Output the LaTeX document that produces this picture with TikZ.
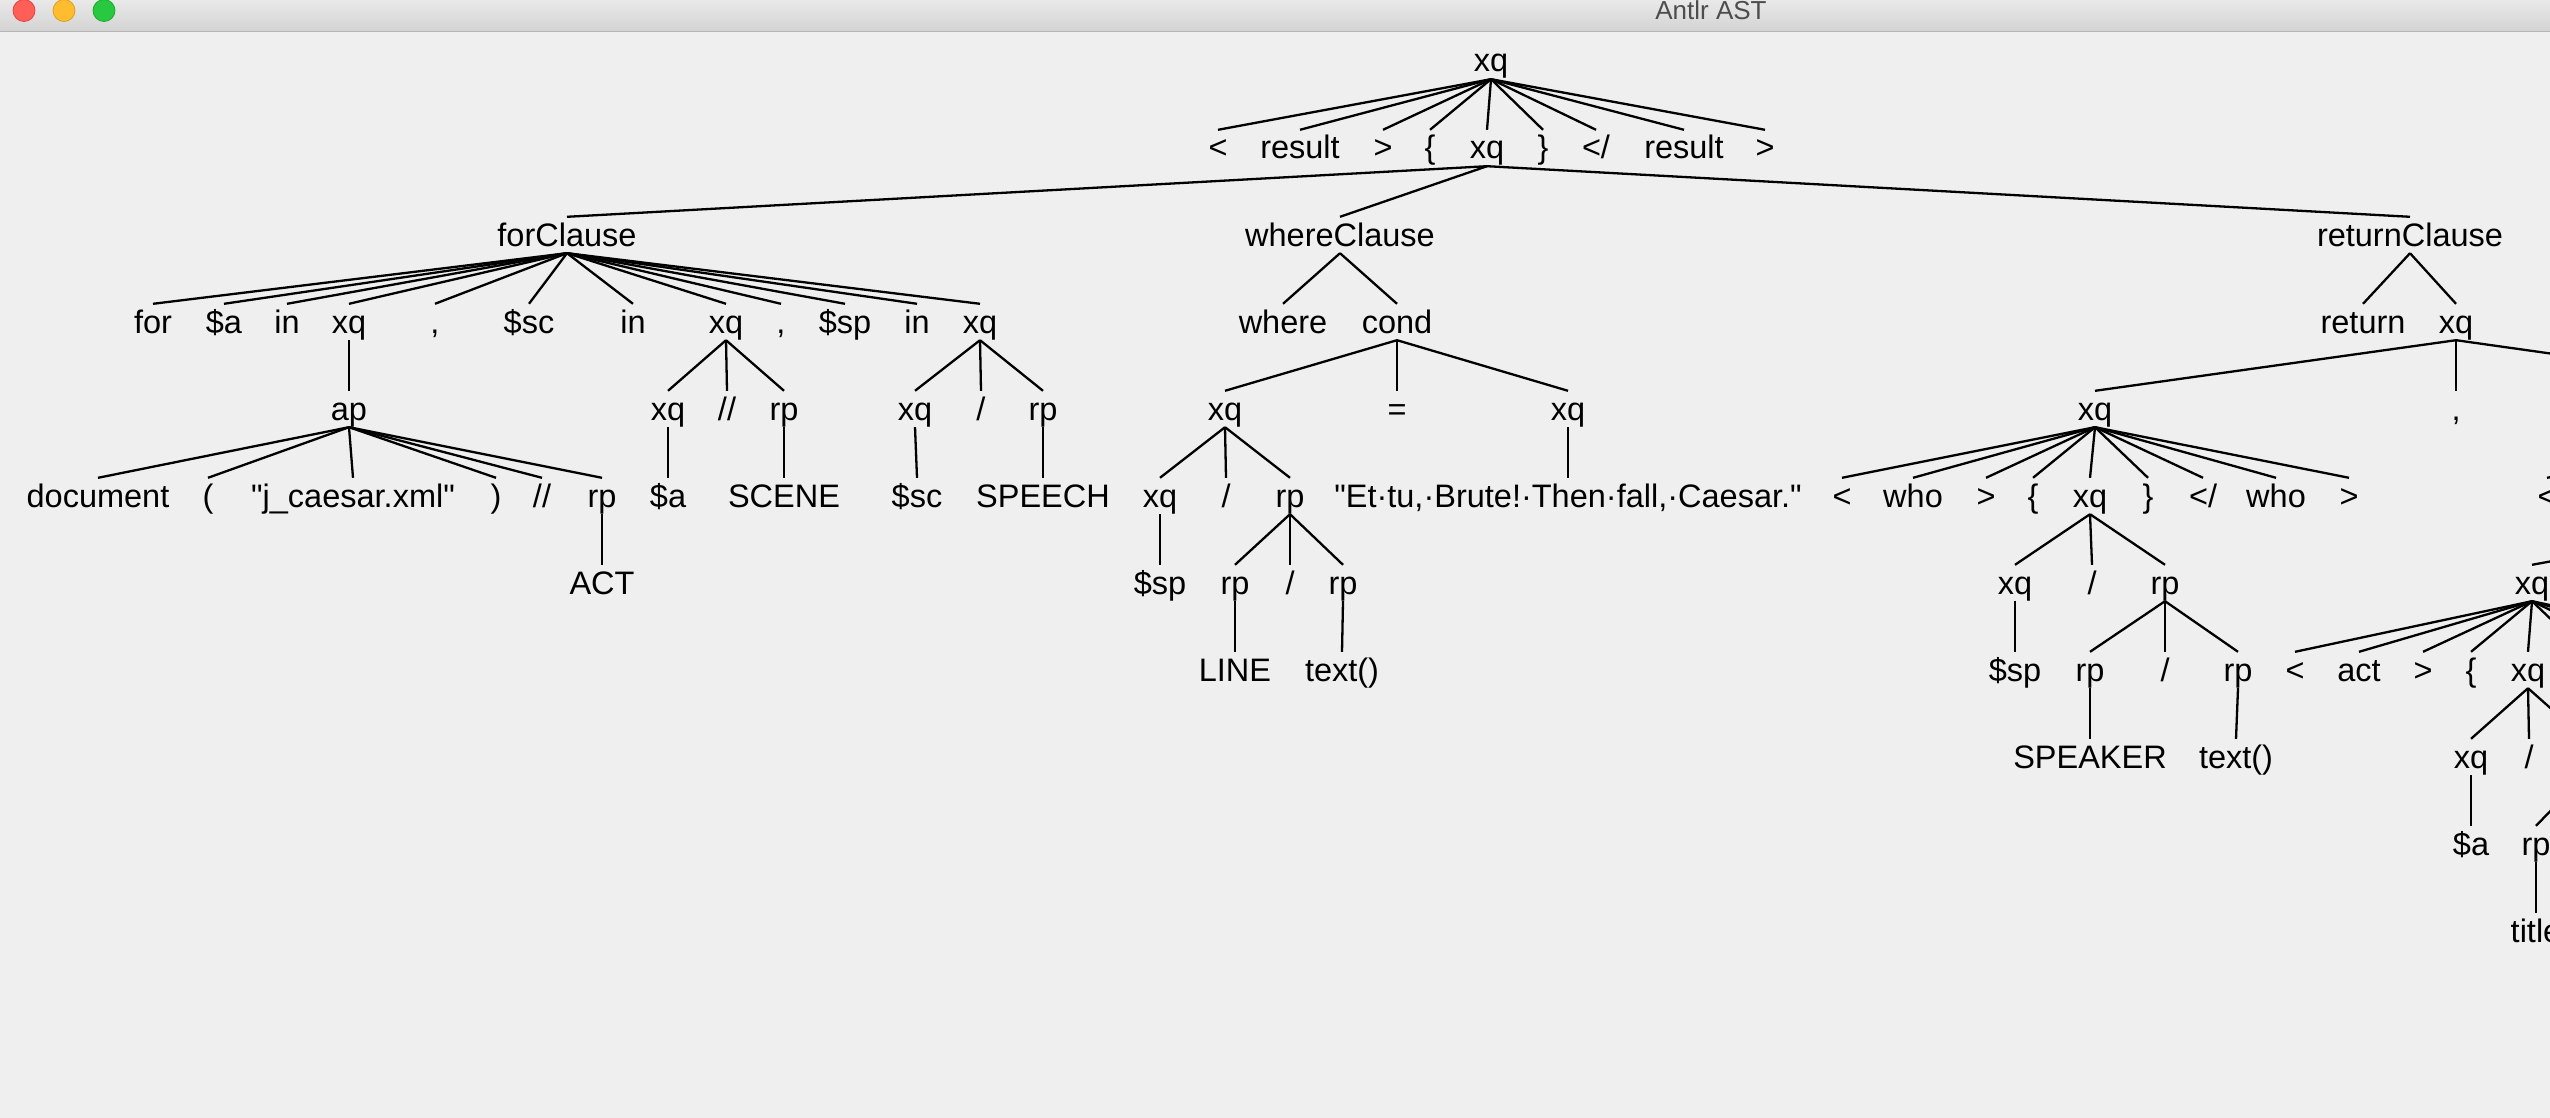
\documentclass[tikz,border=0pt]{standalone}
\usepackage{fontspec}
\setmainfont{Liberation Sans}[Ligatures=TeXOff]
\definecolor{bg}{HTML}{EFEFEF}
\definecolor{tbtop}{HTML}{E9E9E9}
\definecolor{tbbot}{HTML}{D3D3D3}
\definecolor{tbline}{HTML}{B4B4B4}
\definecolor{tlred}{HTML}{FF5F57}
\definecolor{tlredb}{HTML}{E2463F}
\definecolor{tlyel}{HTML}{FEBC2E}
\definecolor{tlyelb}{HTML}{DEA123}
\definecolor{tlgrn}{HTML}{28C840}
\definecolor{tlgrnb}{HTML}{1DAD2B}
\definecolor{ttlgray}{HTML}{4D4D4D}
\begin{document}
\begin{tikzpicture}[x=1pt,y=-1pt,
  t/.style={anchor=base, inner xsep=0pt, inner ysep=7pt, text height=22pt, text depth=0pt,
    font=\fontsize{32.5}{39}\selectfont, text=black},
  e/.style={line width=2.3pt, draw=black},
  wintitle/.style={anchor=base, inner sep=0pt, font=\fontsize{26}{31}\selectfont, text=ttlgray},
  light/.style={line width=0.8pt}]
\useasboundingbox (0,0) rectangle (2550,1118);
\clip (0,0) rectangle (2550,1118);
\fill[bg] (0,0) rectangle (2550,1118);
% title bar
\shade[top color=tbtop, bottom color=tbbot] (0,0) rectangle (2550,31);
\draw[line width=1.5pt, tbline] (0,31.5) -- (2550,31.5);
\filldraw[light, fill=tlred, draw=tlredb] (24,10.5) circle[radius=11];
\filldraw[light, fill=tlyel, draw=tlyelb] (64,10.5) circle[radius=11];
\filldraw[light, fill=tlgrn, draw=tlgrnb] (104,10.5) circle[radius=11];
\node[wintitle] (wt) at (1711,20) {Antlr AST};

% row 0
\node[t] (r0) at (1491,72) {xq};
% row 1
\node[t] (a1) at (1218,159) {<};
\node[t] (a2) at (1300,159) {result};
\node[t] (a3) at (1383,159) {>};
\node[t] (a4) at (1430,159) {\{};
\node[t] (a5) at (1487,159) {xq};
\node[t] (a6) at (1543,159) {\}};
\node[t] (a7) at (1596,159) {</};
\node[t] (a8) at (1684,159) {result};
\node[t] (a9) at (1765,159) {>};
% row 2
\node[t] (fc) at (567,246) {forClause};
\node[t] (wc) at (1340,246) {whereClause};
\node[t] (rc) at (2410,246) {returnClause};
% row 3
\node[t] (f1) at (153,333) {for};
\node[t] (f2) at (224,333) {\$a};
\node[t] (f3) at (287,333) {in};
\node[t] (f4) at (349,333) {xq};
\node[t] (f5) at (435,333) {,};
\node[t] (f6) at (529,333) {\$sc};
\node[t] (f7) at (633,333) {in};
\node[t] (f8) at (726,333) {xq};
\node[t] (f9) at (781,333) {,};
\node[t] (f10) at (845,333) {\$sp};
\node[t] (f11) at (917,333) {in};
\node[t] (f12) at (980,333) {xq};
\node[t] (w1) at (1283,333) {where};
\node[t] (w2) at (1397,333) {cond};
\node[t] (t1) at (2363,333) {return};
\node[t] (t2) at (2456,333) {xq};
% row 4
\node[t] (ap) at (349,420) {ap};
\node[t] (g1) at (668,420) {xq};
\node[t] (g2) at (727,420) {//};
\node[t] (g3) at (784,420) {rp};
\node[t] (h1) at (915,420) {xq};
\node[t] (h2) at (981,420) {/};
\node[t] (h3) at (1043,420) {rp};
\node[t] (c1) at (1225,420) {xq};
\node[t] (c2) at (1397,420) {=};
\node[t] (c3) at (1568,420) {xq};
\node[t] (q1) at (2095,420) {xq};
\node[t] (q2) at (2456,420) {,};
\node[t] (q3) at (2815,420) {xq};
% row 5
\node[t] (d1) at (98,507) {document};
\node[t] (d2) at (208,507) {(};
\node[t] (d3) at (353,507) {"j\_caesar.xml"};
\node[t] (d4) at (496,507) {)};
\node[t] (d5) at (542,507) {//};
\node[t] (d6) at (602,507) {rp};
\node[t] (g1a) at (668,507) {\$a};
\node[t] (g3a) at (784,507) {SCENE};
\node[t] (h1a) at (917,507) {\$sc};
\node[t] (h3a) at (1043,507) {SPEECH};
\node[t] (c1a) at (1160,507) {xq};
\node[t] (c1b) at (1226,507) {/};
\node[t] (c1c) at (1290,507) {rp};
\node[t] (c3a) at (1568,507) {"Et·tu,·Brute!·Then·fall,·Caesar."};
\node[t] (p1) at (1842,507) {<};
\node[t] (p2) at (1913,507) {who};
\node[t] (p3) at (1986,507) {>};
\node[t] (p4) at (2033,507) {\{};
\node[t] (p5) at (2090,507) {xq};
\node[t] (p6) at (2148,507) {\}};
\node[t] (p7) at (2203,507) {</};
\node[t] (p8) at (2276,507) {who};
\node[t] (p9) at (2349,507) {>};
\node[t] (s1) at (2547,507) {<};
\node[t] (s2) at (2627,507) {when};
\node[t] (s3) at (2706,507) {>};
\node[t] (s4) at (2753,507) {\{};
\node[t] (s5) at (2807,507) {xq};
\node[t] (s6) at (2861,507) {\}};
\node[t] (s7) at (2912,507) {</};
\node[t] (s8) at (2996,507) {when};
\node[t] (s9) at (3076,507) {>};
% row 6
\node[t] (act0) at (602,594) {ACT};
\node[t] (u1) at (1160,594) {\$sp};
\node[t] (v1) at (1235,594) {rp};
\node[t] (v2) at (1290,594) {/};
\node[t] (v3) at (1343,594) {rp};
\node[t] (k1) at (2015,594) {xq};
\node[t] (k2) at (2092,594) {/};
\node[t] (k3) at (2165,594) {rp};
\node[t] (m1) at (2532,594) {xq};
\node[t] (m2) at (2586,594) {,};
\node[t] (m3) at (3082,594) {xq};
% row 7
\node[t] (ln) at (1235,681) {LINE};
\node[t] (tx1) at (1342,681) {text()};
\node[t] (k1a) at (2015,681) {\$sp};
\node[t] (k3a) at (2090,681) {rp};
\node[t] (k3b) at (2165,681) {/};
\node[t] (k3c) at (2238,681) {rp};
\node[t] (n1) at (2295,681) {<};
\node[t] (n2) at (2359,681) {act};
\node[t] (n3) at (2423,681) {>};
\node[t] (n4) at (2471,681) {\{};
\node[t] (n5) at (2528,681) {xq};
\node[t] (n6) at (2585,681) {\}};
\node[t] (n7) at (2637,681) {</};
\node[t] (n8) at (2704,681) {act};
\node[t] (n9) at (2769,681) {>};
% row 8
\node[t] (spk) at (2090,768) {SPEAKER};
\node[t] (tx2) at (2236,768) {text()};
\node[t] (o1) at (2471,768) {xq};
\node[t] (o2) at (2529,768) {/};
\node[t] (o3) at (2585,768) {rp};
% row 9
\node[t] (o1a) at (2471,855) {\$a};
\node[t] (z1) at (2536,855) {rp};
\node[t] (z2) at (2585,855) {/};
\node[t] (z3) at (2634,855) {rp};
% row 10
\node[t] (ttl) at (2536,942) {title};
\node[t] (tx3) at (2634,942) {text()};

% edges
\foreach \p/\cs in {r0/{a1,a2,a3,a4,a5,a6,a7,a8,a9},
  a5/{fc,wc,rc},
  fc/{f1,f2,f3,f4,f5,f6,f7,f8,f9,f10,f11,f12},
  wc/{w1,w2}, rc/{t1,t2},
  f4/{ap}, f8/{g1,g2,g3}, f12/{h1,h2,h3},
  w2/{c1,c2,c3}, t2/{q1,q2,q3},
  ap/{d1,d2,d3,d4,d5,d6},
  g1/{g1a}, g3/{g3a}, h1/{h1a}, h3/{h3a},
  c1/{c1a,c1b,c1c}, c3/{c3a},
  q1/{p1,p2,p3,p4,p5,p6,p7,p8,p9},
  q3/{s1,s2,s3,s4,s5,s6,s7,s8,s9},
  d6/{act0}, c1a/{u1}, c1c/{v1,v2,v3},
  p5/{k1,k2,k3}, s5/{m1,m2,m3},
  v1/{ln}, v3/{tx1},
  k1/{k1a}, k3/{k3a,k3b,k3c},
  m1/{n1,n2,n3,n4,n5,n6,n7,n8,n9},
  k3a/{spk}, k3c/{tx2},
  n5/{o1,o2,o3},
  o1/{o1a}, o3/{z1,z2,z3},
  z1/{ttl}, z3/{tx3}}
{
  \foreach \c in \cs {\draw[e] (\p.south) -- (\c.north);}
}
\end{tikzpicture}
\end{document}
